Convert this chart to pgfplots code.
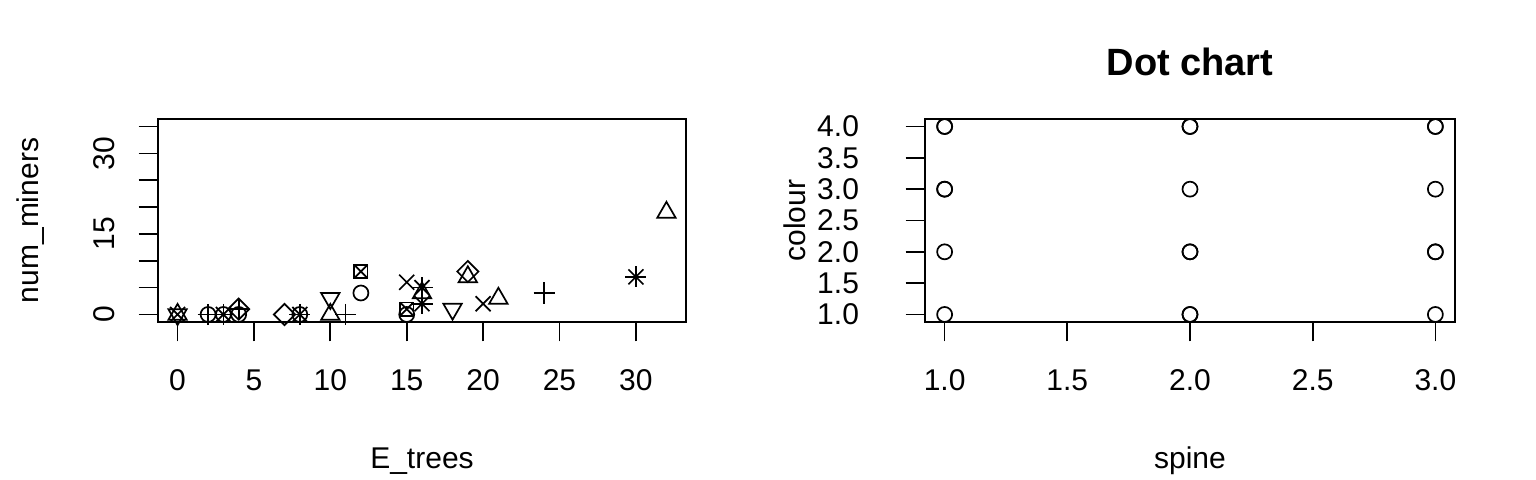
\documentclass[border=0pt]{standalone}
\usepackage{fontspec}
\setmainfont{Liberation Sans}
\usepackage{pgfplots}
\pgfplotsset{compat=1.18}

\pgfplotsset{
  every tick/.style={black, line width=0.85pt},
  every major tick/.style={black, line width=0.85pt},
  every minor tick/.style={black, line width=0.85pt},
}

% R base graphics look: box, outside ticks on left/bottom only
\pgfplotsset{
  rbase/.style={
    scale only axis,
    anchor=south west,
    height=101.5pt,
    font=\fontsize{15}{17}\selectfont,
    tick label style={font=\fontsize{15}{17}\selectfont},
    label style={font=\fontsize{15}{17}\selectfont},
    axis line style={line width=0.85pt},
    xtick style={black, line width=0.85pt},
    ytick style={black, line width=0.85pt},
    tick align=outside,
    tick pos=left,
    major tick length=9.7pt,
    minor tick num=0,
    xticklabel style={anchor=north, yshift=-10.5pt},
    xlabel style={at={(axis description cs:0.5,0)}, anchor=center, yshift=-69.5pt},
    every axis plot/.append style={only marks, black, line width=0.85pt, mark options={solid}},
  },
}

\begin{document}
\begin{tikzpicture}
\useasboundingbox (0,0) rectangle (768pt,240pt);

% left: scatter of num_miners against E_trees, symbol per group
\begin{axis}[rbase,
    at={(79pt,79pt)}, width=264pt,
    xmin=-1.28, xmax=33.28, ymin=-1.4, ymax=36.4,
    xtick={0,5,10,15,20,25,30},
    xticklabels={0,5,10,15,20,25,30},
    ytick={0,5,10,15,20,25,30,35},
    yticklabels={0,,,15,,,30,},
    yticklabel style={xshift=-8.3pt, rotate=90, anchor=south},
    xlabel={E\_trees},
    ylabel={num\_miners},
    ylabel style={at={(axis description cs:-0.242,0.5)}, anchor=center},
  ]
% circle
\addplot[mark=o, mark size=3.75pt] coordinates {(2,0) (3,0) (4,0) (8,0) (12,4) (15,0)};
% triangle up
\addplot[mark=triangle, mark size=5.3pt] coordinates {(0,0) (10,0) (16,4) (19,7) (21,3) (32,19)};
% triangle down
\addplot[mark=triangle, mark size=5.3pt, mark options={rotate=180}] coordinates {(0,0) (10,3) (18,1)};
% plus
\addplot[mark=+, mark size=5.3pt] coordinates {(2,0) (4,1) (11,0) (24,4)};
% cross
\addplot[mark=x, mark size=5.3pt] coordinates {(0,0) (15,6) (20,2)};
% diamond
\addplot[mark=square, mark size=3.75pt, mark options={rotate=45}] coordinates {(4,1) (7,0) (19,8)};
% square with cross
\addplot[mark=square, mark size=3.32pt] coordinates {(12,8) (15,1)};
\addplot[mark=x, mark size=4.7pt] coordinates {(12,8) (15,1)};
% asterisk (plus over cross)
\addplot[mark=+, mark size=5.3pt] coordinates {(3,0) (8,0) (16,5) (16,2) (30,7)};
\addplot[mark=x, mark size=5.3pt] coordinates {(3,0) (8,0) (16,5) (16,2) (30,7)};
\end{axis}

% right: dot chart of colour against spine
\begin{axis}[rbase,
    at={(462.5pt,79pt)}, width=265pt,
    xmin=0.92, xmax=3.08, ymin=0.88, ymax=4.12,
    xtick={1,1.5,2,2.5,3},
    xticklabels={1.0,1.5,2.0,2.5,3.0},
    ytick={1,1.5,2,2.5,3,3.5,4},
    yticklabels={1.0,1.5,2.0,2.5,3.0,3.5,4.0},
    yticklabel style={anchor=east, xshift=-19.8pt},
    xlabel={spine},
    ylabel={colour},
    ylabel style={at={(axis description cs:-0.245,0.5)}, anchor=center},
    title={\bfseries Dot chart},
    title style={at={(axis description cs:0.5,1.22)}, anchor=center, font=\fontsize{19}{22}\selectfont},
  ]
\addplot[mark=o, mark size=3.75pt] coordinates {
  (1,1) (1,2) (1,3) (1,3) (1,4) (1,4)
  (2,1) (2,1) (2,2) (2,2) (2,3) (2,4) (2,4)
  (3,1) (3,2) (3,2) (3,3) (3,4) (3,4)
};
\end{axis}
\end{tikzpicture}
\end{document}
